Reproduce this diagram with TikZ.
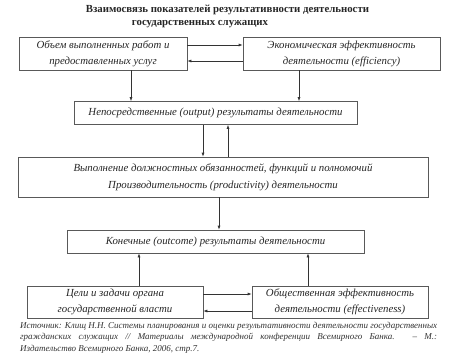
\documentclass[tikz,border=0pt]{standalone}
\usepackage{fontspec}
\setmainfont{Liberation Serif}
\usetikzlibrary{arrows.meta}
\begin{document}
\begin{tikzpicture}[x=1pt,y=-1pt,
  box/.style={draw=black!65, line width=0.6pt, fill=white, inner sep=0pt,
    font=\fontsize{10.8}{16}\selectfont\itshape, text=black!85, align=center},
  arr/.style={draw=black!80, line width=0.6pt, -{Latex[length=4pt,width=3pt]}},
  ttl/.style={font=\fontsize{10.8}{12}\selectfont\bfseries, text=black!85, inner sep=0pt},
  src/.style={font=\fontsize{9}{11}\selectfont\itshape, text=black!80, inner sep=0pt, anchor=west}]
\useasboundingbox (0,0) rectangle (451,364);
\fill[white] (0,0) rectangle (451,364);
\node[ttl] (t1) at (227.5,10) {Взаимосвязь показателей результативности деятельности};
\node[ttl] (t2) at (200,24) {государственных служащих};
\node[box, minimum width=168pt, minimum height=33pt] (b1) at (103,53.5) {Объем выполненных работ и\\предоставленных услуг};
\node[box, minimum width=197pt, minimum height=33pt] (b2) at (341.5,53.5) {Экономическая эффективность\\деятельности (efficiency)};
\node[box, minimum width=283pt, minimum height=23pt] (b3) at (215.5,113) {Непосредственные (output) результаты деятельности};
\node[box, minimum width=410pt, minimum height=40pt, font=\fontsize{10.8}{17}\selectfont\itshape] (b4) at (223,177) {Выполнение должностных обязанностей, функций и полномочий\\Производительность (productivity) деятельности};
\node[box, minimum width=297pt, minimum height=23pt] (b5) at (215.5,241.5) {Конечные (outcome) результаты деятельности};
\node[box, minimum width=176pt, minimum height=32pt] (b6) at (115,302) {Цели и задачи органа\\государственной власти};
\node[box, minimum width=176pt, minimum height=32pt] (b7) at (340,302) {Общественная эффективность\\деятельности (effectiveness)};
\draw[arr] (b1.east |- 0,45) -- (b2.west |- 0,45);
\draw[arr] (b2.west |- 0,61) -- (b1.east |- 0,61);
\draw[arr] (b1.south -| 131,0) -- (b3.north -| 131,0);
\draw[arr] (b2.south -| 299,0) -- (b3.north -| 299,0);
\draw[arr] (b3.south -| 203,0) -- (b4.north -| 203,0);
\draw[arr] (b4.north -| 228,0) -- (b3.south -| 228,0);
\draw[arr] (b4.south -| 219,0) -- (b5.north -| 219,0);
\draw[arr] (b6.north -| 139,0) -- (b5.south -| 139,0);
\draw[arr] (b7.north -| 308,0) -- (b5.south -| 308,0);
\draw[arr] (b6.east |- 0,294) -- (b7.west |- 0,294);
\draw[arr] (b7.west |- 0,311) -- (b6.east |- 0,311);
\node[src] (s1) at (20,326) {\makebox[417pt][s]{Источник: Клищ Н.Н. Системы планирования и оценки результативности деятельности государственных}};
\node[src] (s2) at (20,337.5) {\makebox[417pt][s]{гражданских служащих // Материалы международной конференции Всемирного Банка. – М.:}};
\node[src] (s3) at (20,349) {Издательство Всемирного Банка, 2006, стр.7.};
\end{tikzpicture}
\end{document}
